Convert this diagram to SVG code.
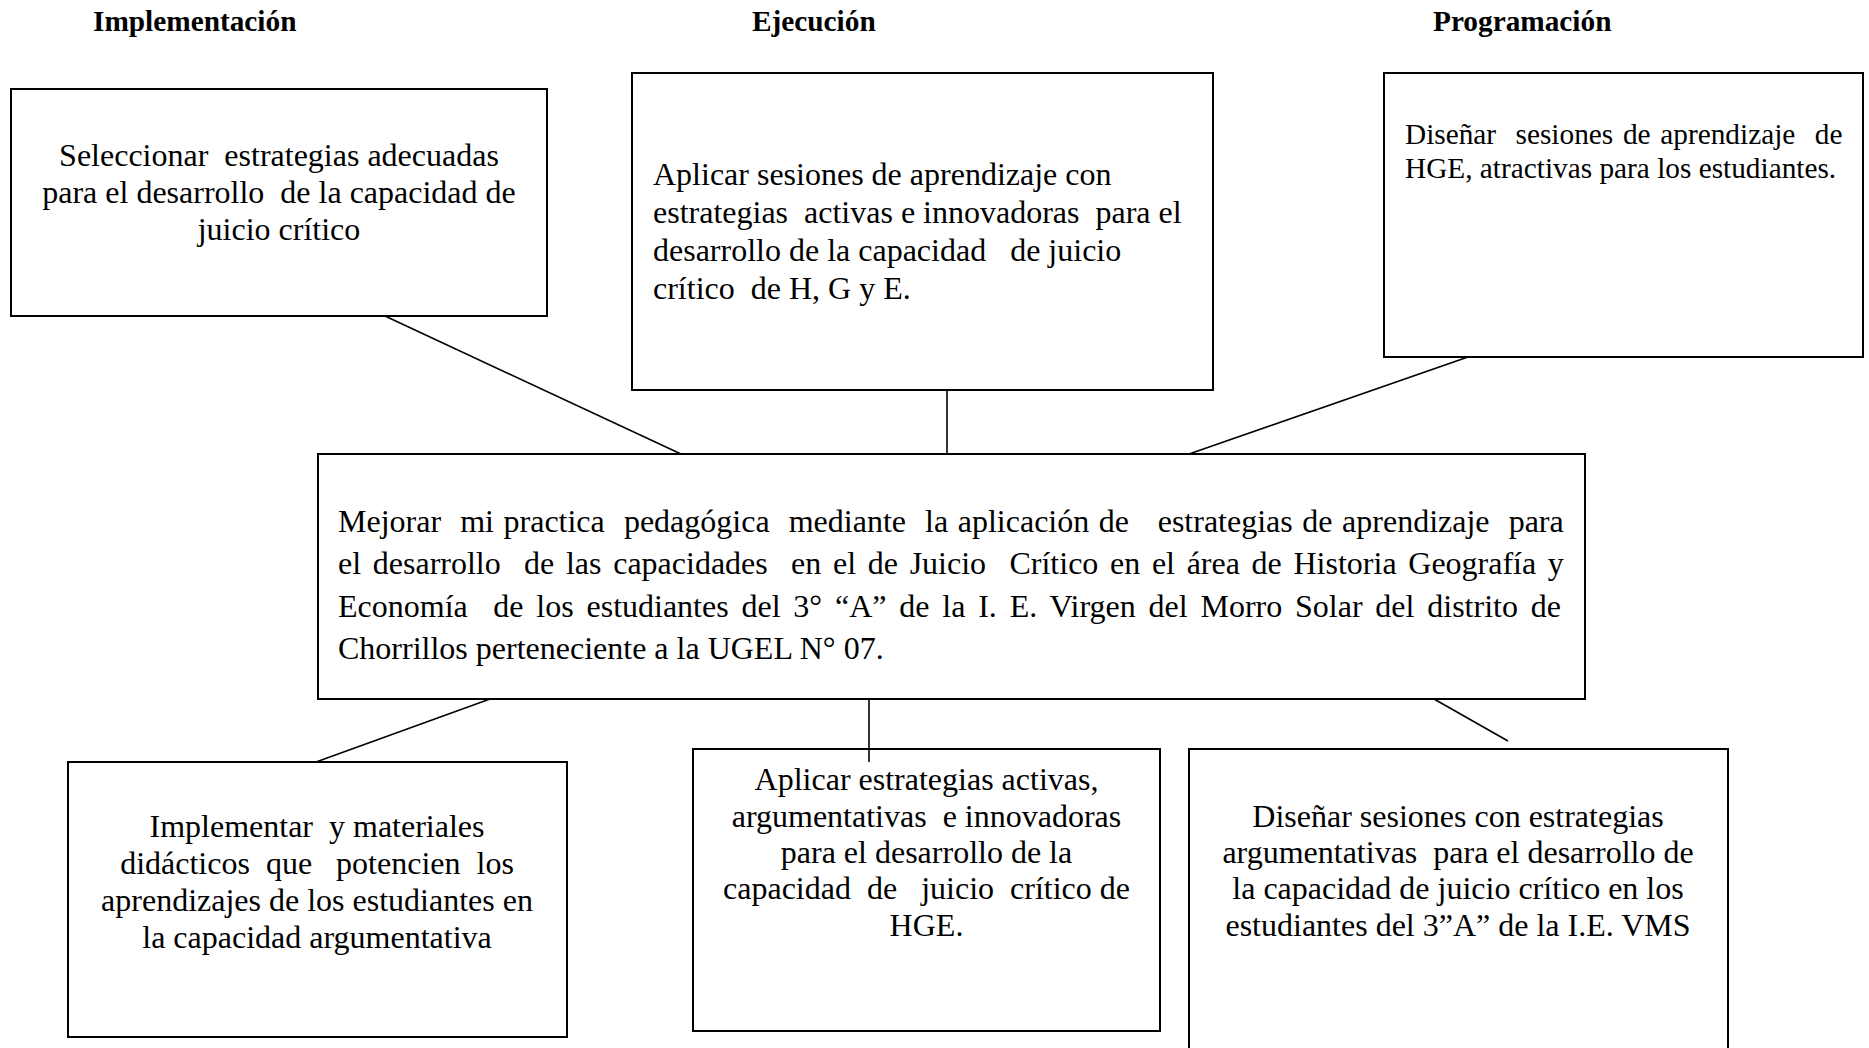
<svg xmlns="http://www.w3.org/2000/svg" width="1869" height="1048" viewBox="0 0 1869 1048">
<style>
  text { font-family: "Liberation Serif", "Times New Roman", serif; fill: #000; white-space: pre; }
  .title { font-size: 29.3px; font-weight: bold; }
  .t32 { font-size: 32px; }
  .t29 { font-size: 29.3px; }
  .c { text-anchor: middle; }
  .box { fill: #fff; stroke: #000; stroke-width: 2; }
  .conn { stroke: #000; stroke-width: 1.6; fill: none; }
</style>
<rect width="1869" height="1048" fill="#fff"/>

<g id="titles">
  <text class="title" x="93" y="31">Implementación</text>
  <text class="title" x="752" y="31">Ejecución</text>
  <text class="title" x="1433" y="31">Programación</text>
</g>

<g id="connectors">
  <line class="conn" x1="385" y1="316" x2="681" y2="454"/>
  <line class="conn" x1="947" y1="390" x2="947" y2="454"/>
  <line class="conn" x1="1468" y1="357" x2="1189" y2="454"/>
  <line class="conn" x1="490" y1="699" x2="316" y2="762"/>
  <line class="conn" x1="1434" y1="699" x2="1508" y2="741"/>
</g>

<g id="node-implementacion">
  <rect class="box" x="11" y="89" width="536" height="227"/>
  <text class="t32 c" x="279" y="166">Seleccionar  estrategias adecuadas</text>
  <text class="t32 c" x="279" y="203">para el desarrollo  de la capacidad de</text>
  <text class="t32 c" x="279" y="240">juicio crítico</text>
</g>

<g id="node-ejecucion">
  <rect class="box" x="632" y="73" width="581" height="317"/>
  <text class="t32" x="653" y="185">Aplicar sesiones de aprendizaje con</text>
  <text class="t32" x="653" y="223">estrategias  activas e innovadoras  para el</text>
  <text class="t32" x="653" y="261">desarrollo de la capacidad   de juicio</text>
  <text class="t32" x="653" y="298.5">crítico  de H, G y E.</text>
</g>

<g id="node-programacion">
  <rect class="box" x="1384" y="73" width="479" height="284"/>
  <text class="t29" x="1405" y="143.5" word-spacing="2.4">Diseñar  sesiones de aprendizaje  de</text>
  <text class="t29" x="1405" y="177.5">HGE, atractivas para los estudiantes.</text>
</g>

<g id="node-objetivo">
  <rect class="box" x="318" y="454" width="1267" height="245"/>
  <text class="t32" x="338" y="531.5" word-spacing="1.56">Mejorar  mi practica  pedagógica  mediante  la aplicación de   estrategias de aprendizaje  para</text>
  <text class="t32" x="338" y="574" word-spacing="3.68">el desarrollo  de las capacidades  en el de Juicio  Crítico en el área de Historia Geografía y</text>
  <text class="t32" x="338" y="616.5" word-spacing="4.8">Economía  de los estudiantes del 3° “A” de la I. E. Virgen del Morro Solar del distrito de</text>
  <text class="t32" x="338" y="659">Chorrillos perteneciente a la UGEL N° 07.</text>
</g>

<g id="node-implementar">
  <rect class="box" x="68" y="762" width="499" height="275"/>
  <text class="t32 c" x="317" y="837">Implementar  y materiales</text>
  <text class="t32 c" x="317" y="874">didácticos  que   potencien  los</text>
  <text class="t32 c" x="317" y="911">aprendizajes de los estudiantes en</text>
  <text class="t32 c" x="317" y="948">la capacidad argumentativa</text>
</g>

<g id="node-aplicar">
  <rect class="box" x="693" y="749" width="467" height="282"/>
  <text class="t32 c" x="926.5" y="790">Aplicar estrategias activas,</text>
  <text class="t32 c" x="926.5" y="826.5">argumentativas  e innovadoras</text>
  <text class="t32 c" x="926.5" y="863">para el desarrollo de la</text>
  <text class="t32 c" x="926.5" y="899">capacidad  de   juicio  crítico de</text>
  <text class="t32 c" x="926.5" y="935.5">HGE.</text>
</g>
<line class="conn" x1="869" y1="699" x2="869" y2="762"/>

<g id="node-disenar">
  <rect class="box" x="1189" y="749" width="539" height="310"/>
  <text class="t32 c" x="1458" y="826.5">Diseñar sesiones con estrategias</text>
  <text class="t32 c" x="1458" y="863">argumentativas  para el desarrollo de</text>
  <text class="t32 c" x="1458" y="899">la capacidad de juicio crítico en los</text>
  <text class="t32 c" x="1458" y="935.5">estudiantes del 3”A” de la I.E. VMS</text>
</g>
</svg>
